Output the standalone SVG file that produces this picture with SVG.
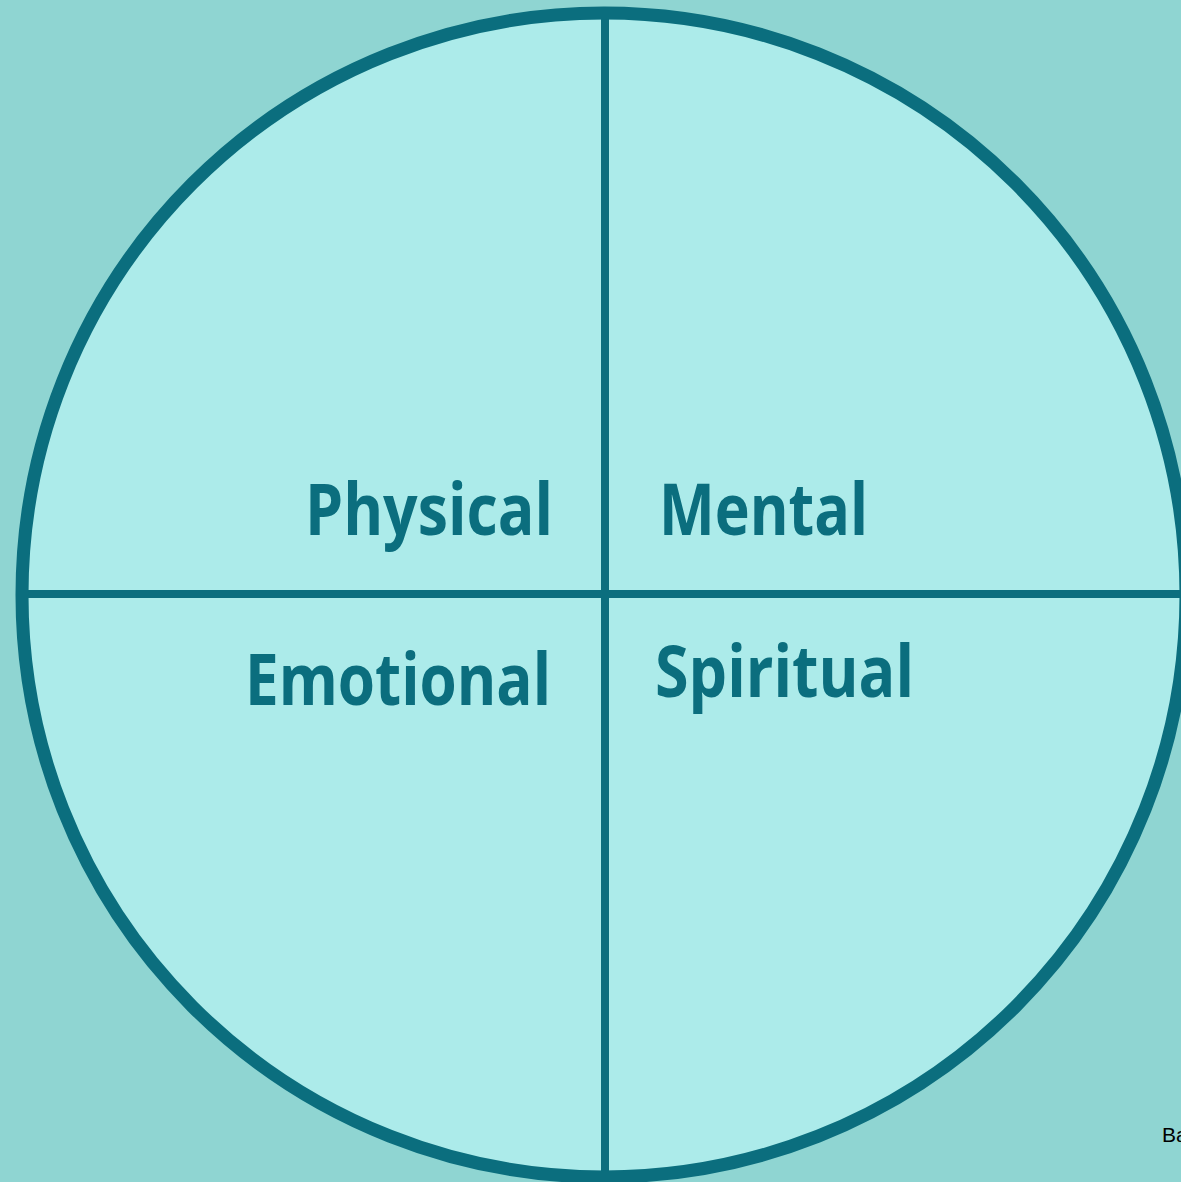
<svg xmlns="http://www.w3.org/2000/svg" width="1181" height="1182" viewBox="0 0 1181 1182">
  <style>
    .label { font-family: "Open Sans", "Noto Sans", "DejaVu Sans", sans-serif; font-weight: 700; font-size: 72px; fill: #0b6e7e; }
    .rule { stroke: #0b6e7e; stroke-width: 8; fill: none; }
  </style>
  <defs>
    <clipPath id="disc">
      <circle cx="604" cy="595" r="582"/>
    </clipPath>
  </defs>
  <!-- backdrop -->
  <rect width="1181" height="1182" fill="#8fd5d2"/>

  <!-- wheel body -->
  <g id="wheel">
    <circle cx="604" cy="595" r="582" fill="#acebea"/>
    <g clip-path="url(#disc)">
      <line class="rule" x1="605" y1="0" x2="605" y2="1182"/>
      <line class="rule" x1="0" y1="594" x2="1181" y2="594"/>
    </g>
    <circle cx="604" cy="595" r="582" fill="none" stroke="#0b6e7e" stroke-width="13"/>
  </g>

  <!-- quadrant labels -->
  <g id="physical">
    <text class="label" x="305" y="535" textLength="248" lengthAdjust="spacingAndGlyphs">Physical</text>
  </g>
  <g id="mental">
    <text class="label" x="659" y="535" textLength="209" lengthAdjust="spacingAndGlyphs">Mental</text>
  </g>
  <g id="emotional">
    <text class="label" x="245" y="705" textLength="306" lengthAdjust="spacingAndGlyphs">Emotional</text>
  </g>
  <g id="spiritual">
    <text class="label" x="655" y="697" textLength="259" lengthAdjust="spacingAndGlyphs">Spiritual</text>
  </g>

  <!-- corner caption -->
  <text x="1162" y="1142" font-family="Liberation Sans, Arial, sans-serif" font-size="21" fill="#000000">Ba</text>
</svg>
